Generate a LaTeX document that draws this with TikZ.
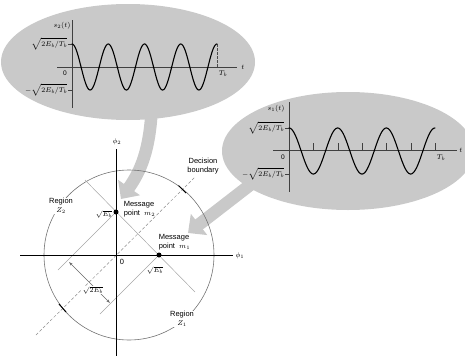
\documentclass[tikz,border=0pt]{standalone}
\usepackage{fontspec}
\setmainfont{Liberation Sans}
\usetikzlibrary{arrows.meta}
\definecolor{bub}{RGB}{201,201,201}
\begin{document}
\begin{tikzpicture}[x=1pt,y=-1pt,
  lab/.style={font=\fontsize{7.5}{8.6}\selectfont, inner sep=0.6pt, align=center},
  wlab/.style={font=\fontsize{6.6}{7.5}\selectfont, inner sep=0.5pt},
  bigarrow/.style={bub, line width=12.5pt, -{Triangle[length=14pt,width=26pt]}},
  waxis/.style={draw=black!75, line width=0.5pt},
  wave/.style={black, line width=1.1pt, line cap=round},
  axis/.style={black, line width=0.8pt},
  circ/.style={black!55, line width=0.6pt},
  guide/.style={black!35, line width=0.5pt},
  bound/.style={black!45, line width=0.5pt, dash pattern=on 3pt off 2pt},
  dim/.style={black!60, line width=0.5pt, {Stealth[length=4pt,width=2.6pt]}-{Stealth[length=4pt,width=2.6pt]}},
  tickm/.style={black, line width=1pt},
  msg/.style={circle, fill=black, inner sep=0pt, minimum size=5pt}]
\path[use as bounding box] (0,0) rectangle (465,356);

% bubbles
\fill[bub] (128,62) ellipse [x radius=127pt, y radius=58pt];
\fill[bub] (348,151) ellipse [x radius=126pt, y radius=59pt];
\coordinate (t2s) at (152,100);
\coordinate (t2e) at (121,199);
\coordinate (t1s) at (272,168);
\coordinate (t1e) at (188,233);
\draw[bigarrow] (t2s) .. controls (151,150) and (140,172) .. (t2e);
\draw[bigarrow] (t1s) -- (t1e);

% ---------- s2(t) plot ----------
\draw[waxis] (72,20) -- (72,108);
\draw[waxis] (57,67) -- (237,67);
\draw[waxis] (68,44) -- (72,44);
\draw[waxis] (68,90) -- (72,90);
\draw[black!70, line width=0.5pt, dash pattern=on 2.5pt off 1.5pt] (217,44) -- (217,67);
\draw[wave] plot[domain=72:217, samples=200, smooth] (\x, {67 - 23*cos(9.931*(\x-72))});
\node[wlab] (s2) at (62,26) {$s_2(t)$};
\node[wlab, anchor=east] (s2p) at (68,44) {$\sqrt{2E_b/T_b}$};
\node[wlab, anchor=east] (s2m) at (68,90) {$-\sqrt{2E_b/T_b}$};
\node[wlab] (s20) at (65,73) {0};
\node[wlab] (s2T) at (223,74) {$T_b$};
\node[wlab] (s2t) at (243,67) {$t$};

% ---------- s1(t) plot ----------
\draw[waxis] (289,102) -- (289,192);
\draw[waxis] (273,150) -- (457,150);
\draw[waxis] (285,128) -- (289,128);
\draw[waxis] (285,174) -- (289,174);
\foreach \xx in {313,338,362,386,411,435}
  \draw[waxis] (\xx,150) -- (\xx,143);
\draw[wave] plot[domain=289:435, samples=200, smooth] (\x, {151 - 23*cos(7.3973*(\x-289))});
\node[wlab] (s1) at (276,109) {$s_1(t)$};
\node[wlab, anchor=east] (s1p) at (285,128) {$\sqrt{2E_b/T_b}$};
\node[wlab, anchor=east] (s1m) at (285,174) {$-\sqrt{2E_b/T_b}$};
\node[wlab] (s10) at (283,157) {0};
\node[wlab] (s1T) at (441,158) {$T_b$};
\node[wlab] (s1t) at (461,150) {$t$};

% ---------- signal space ----------
\coordinate (O) at (116,255);
\coordinate (m1) at (159,255);
\coordinate (m2) at (116,212);
\coordinate (cc) at (129,255);
\coordinate (dA) at (36,335);
\coordinate (dB) at (195,177);
\coordinate (gA) at (85,180);
\coordinate (gB) at (195,292);
\coordinate (p2) at (58,270);
\coordinate (p1) at (100,314);
\coordinate (x1) at (20,255);
\coordinate (x2) at (233,255);
\coordinate (y1) at (116,149);
\coordinate (y2) at (116,356);
\coordinate (da) at (69,262);
\coordinate (db) at (110,303);

\draw[circ] (cc) circle[radius=85pt];
\draw[guide] (gA) -- (gB);
\draw[guide] (m2) -- (p2);
\draw[guide] (m1) -- (p1);
\draw[bound] (dA) -- (dB);
\draw[tickm] (178.5,185.5) -- (186,193);
\draw[tickm] (59,304) -- (66,312);
\draw[axis] (x1) -- (x2);
\draw[axis] (y1) -- (y2);
\draw[dim] (da) -- (db);

\node[msg] (M1) at (m1) {};
\node[msg] (M2) at (m2) {};

\node[lab] (phi2) at (117,142) {$\phi_2$};
\node[lab] (phi1) at (240,256) {$\phi_1$};
\node[lab] (zero) at (122,262) {0};
\node[lab] (e2) at (104,214) {$\sqrt{E_b}$};
\node[lab] (e1) at (155,270) {$\sqrt{E_b}$};
\node[lab, fill=white] (e3) at (93,290) {$\sqrt{2E_b}$};
\node[lab, align=left, anchor=west] (lm2) at (123,209) {Message\\point \ $m_2$};
\node[lab, align=left, anchor=west] (lm1) at (158,242) {Message\\point \ $m_1$};
\node[lab] (dec) at (203,166) {Decision\\boundary};
\node[lab, fill=white] (z2) at (61,206) {Region\\$Z_2$};
\node[lab, fill=white] (z1) at (182,319) {Region\\$Z_1$};
\end{tikzpicture}
\end{document}
